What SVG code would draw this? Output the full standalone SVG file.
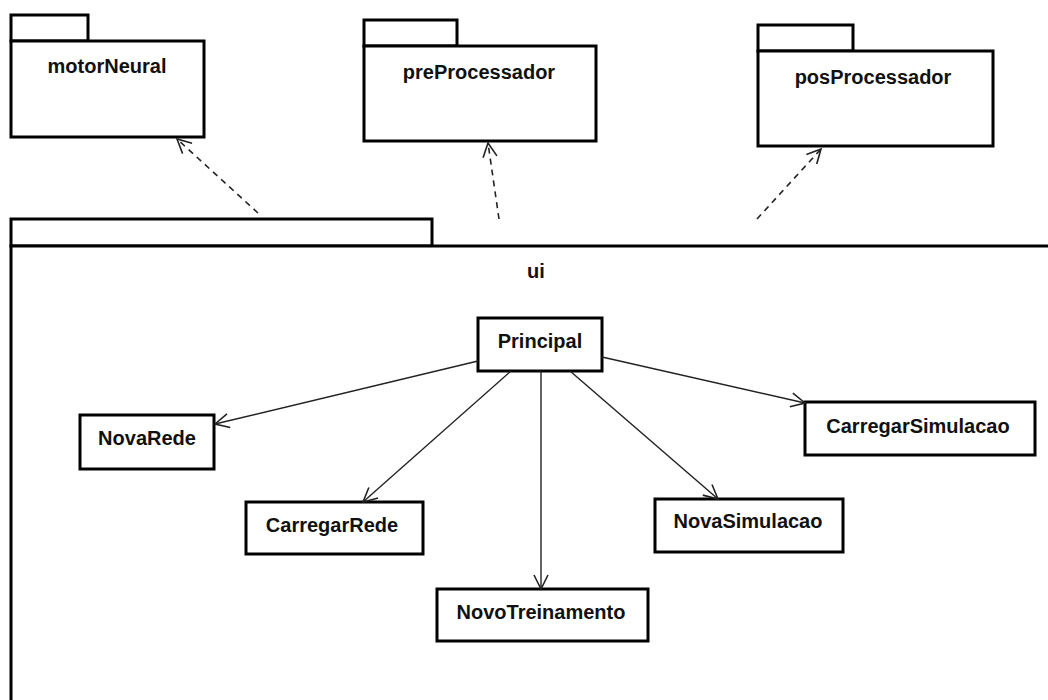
<svg xmlns="http://www.w3.org/2000/svg" width="1048" height="700" viewBox="0 0 1048 700">
  <style>
    .pkg { fill: #fff; stroke: #000; stroke-width: 3; }
    .cls { fill: #fff; stroke: #000; stroke-width: 3; }
    .lbl { font-family: "Liberation Sans", Arial, sans-serif; font-weight: bold; font-size: 20px; fill: #111; text-anchor: middle; }
    .dep { stroke: #222; stroke-width: 1.6; stroke-dasharray: 6 5; fill: none; }
    .nav { stroke: #222; stroke-width: 1.4; fill: none; }
  </style>
  <defs>
    <marker id="open" markerUnits="userSpaceOnUse" markerWidth="20" markerHeight="20" viewBox="-16 -10 20 20" refX="0" refY="0" orient="auto">
      <path d="M -14 -7 L 0 0 L -14 7" fill="none" stroke="#222" stroke-width="1.6"/>
    </marker>
  </defs>
  <rect width="1048" height="700" fill="#fff"/>

  <!-- package: motorNeural -->
  <g id="motorNeural">
    <rect class="pkg" x="11" y="15" width="77" height="26"/>
    <rect class="pkg" x="11" y="41" width="193" height="96"/>
    <text class="lbl" x="107" y="73">motorNeural</text>
  </g>

  <!-- package: preProcessador -->
  <g id="preProcessador">
    <rect class="pkg" x="364" y="20" width="93" height="26"/>
    <rect class="pkg" x="364" y="46" width="232" height="95"/>
    <text class="lbl" x="479" y="79">preProcessador</text>
  </g>

  <!-- package: posProcessador -->
  <g id="posProcessador">
    <rect class="pkg" x="758" y="25" width="95" height="26"/>
    <rect class="pkg" x="758" y="51" width="235" height="95"/>
    <text class="lbl" x="873" y="84">posProcessador</text>
  </g>

  <!-- package: ui (extends past the canvas edge) -->
  <g id="ui">
    <rect class="pkg" x="11" y="219" width="421" height="27"/>
    <rect class="pkg" x="11" y="246" width="1060" height="480"/>
    <text class="lbl" x="536" y="278">ui</text>
  </g>

  <!-- classes inside ui -->
  <g id="Principal">
    <rect class="cls" x="478" y="318" width="124" height="53"/>
    <text class="lbl" x="540" y="348">Principal</text>
  </g>
  <g id="NovaRede">
    <rect class="cls" x="80" y="415" width="134" height="54"/>
    <text class="lbl" x="147" y="445">NovaRede</text>
  </g>
  <g id="CarregarRede">
    <rect class="cls" x="246" y="502" width="177" height="52"/>
    <text class="lbl" x="332" y="532">CarregarRede</text>
  </g>
  <g id="NovoTreinamento">
    <rect class="cls" x="437" y="589" width="211" height="52"/>
    <text class="lbl" x="541" y="619">NovoTreinamento</text>
  </g>
  <g id="NovaSimulacao">
    <rect class="cls" x="655" y="499" width="188" height="53"/>
    <text class="lbl" x="748" y="528">NovaSimulacao</text>
  </g>
  <g id="CarregarSimulacao">
    <rect class="cls" x="805" y="402" width="230" height="53"/>
    <text class="lbl" x="918" y="433">CarregarSimulacao</text>
  </g>

  <!-- connectors -->
  <g id="connectors">
    <line class="dep" x1="258" y1="213" x2="177" y2="139" marker-end="url(#open)"/>
    <line class="dep" x1="499" y1="219" x2="488" y2="143" marker-end="url(#open)"/>
    <line class="dep" x1="757" y1="219" x2="821" y2="149" marker-end="url(#open)"/>

    <line class="nav" x1="478" y1="361" x2="215" y2="424" marker-end="url(#open)"/>
    <line class="nav" x1="511" y1="371" x2="363" y2="502" marker-end="url(#open)"/>
    <line class="nav" x1="541" y1="371" x2="541" y2="589" marker-end="url(#open)"/>
    <line class="nav" x1="570" y1="371" x2="718" y2="499" marker-end="url(#open)"/>
    <line class="nav" x1="602" y1="357" x2="805" y2="403" marker-end="url(#open)"/>
  </g>
</svg>
